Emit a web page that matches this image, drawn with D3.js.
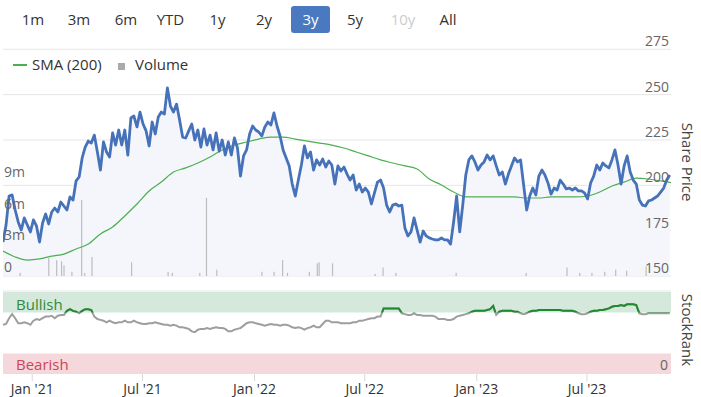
<!DOCTYPE html>
<html lang="en">
<head>
<meta charset="UTF-8">
<title>Share Price</title>
<script src="https://cdn.jsdelivr.net/npm/d3@7"></script>
<style>
  body { margin: 0; background: #fff; }
  svg text { font-family: "Open Sans", "Noto Sans", sans-serif; }
</style>
</head>
<body>
<div id="chart"></div>
<script>
// ---- data ----
var startDate = "2020-11-14";   // first point, one point every 5 days

var prices = [168.7,178.1,194.1,194.7,186.4,179.8,175.4,182.0,178.1,174.3,180.9,177.6,168.7,179.2,184.2,178.7,185.3,187.5,185.3,190.8,
  188.6,186.4,193.6,191.9,202.4,204.6,215.1,221.1,224.4,223.3,227.7,218.4,208.4,223.9,218.4,215.6,228.9,222.2,230.5,222.2,
  230.5,216.7,237.1,238.2,232.2,240.4,233.8,230.0,221.7,234.9,228.3,237.7,240.4,239.3,253.7,243.7,240.4,244.8,236.0,226.6,
  226.1,230.0,233.8,225.0,230.5,221.1,231.1,222.2,227.7,219.5,228.9,218.9,225.0,216.7,223.9,216.7,226.1,220.6,205.1,216.2,
  219.5,228.3,232.7,230.5,229.4,227.2,232.2,234.9,233.3,239.9,232.7,227.2,219.5,215.1,210.7,200.7,194.1,202.9,211.2,221.7,
  215.1,218.4,208.4,214.0,211.2,214.5,210.1,213.4,211.2,200.7,210.7,207.9,210.1,206.2,202.9,205.7,197.4,200.7,196.3,198.5,
  196.3,189.7,195.8,201.8,202.9,198.5,189.1,185.3,189.1,189.7,188.6,189.1,176.5,172.1,174.3,182.0,175.4,168.7,174.8,172.1,
  171.0,170.4,169.9,169.9,171.0,169.9,169.9,167.6,179.8,194.1,174.3,189.1,205.7,214.0,216.2,212.9,208.4,211.2,212.9,216.7,
  214.0,216.2,210.7,205.7,207.3,200.7,206.2,210.7,215.1,212.9,214.0,200.2,186.4,194.1,198.5,194.7,205.1,208.4,205.7,201.3,
  195.2,198.5,197.4,202.9,200.7,198.0,198.5,197.4,198.5,196.9,196.9,195.8,192.5,201.3,205.1,211.2,208.4,212.3,210.7,209.6,
  214.0,219.5,211.2,200.7,210.7,216.2,207.3,202.9,200.7,191.9,189.1,188.6,191.4,191.9,193.0,194.1,196.3,198.5,202.9,205.7];

var stockRank = [60,61,68,73,68,62,62,63,62,60,65,67,66,68,70,70,71,68,71,72,
  72,77,79,77,76,74,77,79,79,78,70,67,66,65,63,65,63,62,63,63,
  65,63,63,65,63,62,61,61,62,62,63,62,61,60,60,59,60,59,57,57,
  56,55,52,51,54,55,55,56,55,56,57,56,56,55,52,52,54,55,56,59,
  62,63,63,62,61,60,59,60,61,60,60,59,60,60,59,57,56,57,56,54,
  56,57,59,57,57,61,65,65,63,63,63,62,62,62,62,63,63,65,65,66,
  67,68,68,70,70,80,80,80,80,80,80,74,73,72,72,74,72,72,71,71,
  71,71,70,67,67,67,66,66,67,70,71,72,73,74,76,77,77,77,77,78,
  79,83,72,76,77,77,77,77,76,76,74,73,74,76,77,77,78,78,78,78,
  78,78,78,78,77,77,77,77,76,74,73,73,74,76,77,77,78,78,79,80,
  82,83,83,84,83,85,85,85,84,74,73,73,74,74,74,74,74,74,74,74];

// SMA (200), one reading every 20 days from startDate
var sma = [163.8,160.5,158.8,159.4,161.0,162.1,164.9,167.6,173.2,177.0,183.1,189.7,196.9,201.8,207.3,209.6,212.3,215.6,219.5,222.2,
  223.9,225.5,226.6,226.6,225.5,224.4,223.3,222.2,220.6,218.4,216.2,214.0,212.3,210.7,209.0,203.5,200.2,196.3,193.6,193.6,
  193.6,193.6,193.6,193.0,193.0,193.6,193.6,193.6,194.1,196.3,199.6,201.8,204.0,203.5,202.4,201.3];

var volDates = ["2020-12-12","2021-01-28","2021-02-10","2021-02-18","2021-02-22","2021-03-07","2021-03-23","2021-03-28",
  "2021-04-09","2021-06-13","2021-08-12","2021-08-19","2021-10-03","2021-10-14","2021-10-31","2022-01-13","2022-02-02",
  "2022-02-16","2022-02-24","2022-04-01","2022-04-14","2022-04-17","2022-05-09","2022-07-18","2022-07-31","2022-08-21",
  "2022-11-28","2023-03-23","2023-05-29","2023-06-19","2023-07-09","2023-07-30","2023-08-17","2023-09-04","2023-10-06"];
var volValues = [0.3,1.7,1.5,1.4,1.0,0.4,7.2,0.3,1.8,1.3,0.4,0.3,0.3,7.4,0.6,0.4,0.4,
  1.5,0.3,0.4,1.2,1.3,1.2,0.2,0.8,0.3,0.3,0.3,0.8,0.3,0.3,0.4,0.6,0.5,0.9];

var priceTicks = [150, 175, 200, 225, 250, 275];
var volTicks = [0, 3, 6, 9];
var rangeButtons = ["1m", "3m", "6m", "YTD", "1y", "2y", "3y", "5y", "10y", "All"];

// ---- setup ----
var W = 701, H = 397;
var parse = d3.timeParse("%Y-%m-%d");
var t0 = parse(startDate);
var priceData = prices.map(function (p, i) { return {date: d3.timeDay.offset(t0, i * 5), v: p}; });
var rankData = stockRank.map(function (r, i) { return {date: d3.timeDay.offset(t0, i * 5), v: r}; });
var smaData = sma.map(function (s, i) { return {date: d3.timeDay.offset(t0, i * 20), v: s}; });
var volData = volDates.map(function (d, i) { return {date: parse(d), v: volValues[i]}; });

var svg = d3.select("#chart").append("svg").attr("width", W).attr("height", H);

var x = d3.scaleTime().domain([parse("2020-11-14"), parse("2023-11-16")]).range([3, 671]);
var yP = d3.scaleLinear().domain([150, 275]).range([276, 49.3]);
var yV = d3.scaleLinear().domain([0, 9]).range([276, 181]);
var yR = d3.scaleLinear().domain([0, 100]).range([374, 292]);

svg.append("clipPath").attr("id", "plotClip")
  .append("rect").attr("x", 3).attr("y", 40).attr("width", 668).attr("height", 240);

// range selector
var btnX = [33, 79, 126, 170.5, 217.5, 264, 310.5, 355, 403, 448];
rangeButtons.forEach(function (b, i) {
  if (b === "3y") {
    svg.append("rect").attr("x", btnX[i] - 19.5).attr("y", 6).attr("width", 39).attr("height", 27)
      .attr("rx", 3).attr("fill", "#4a79bf");
  }
  svg.append("text").attr("x", btnX[i]).attr("y", 25).attr("text-anchor", "middle")
    .attr("font-size", 15)
    .attr("fill", b === "3y" ? "#fff" : (b === "10y" ? "#ccc" : "#333"))
    .text(b);
});

// price gridlines
priceTicks.forEach(function (t) {
  svg.append("line").attr("x1", 3).attr("x2", 671).attr("y1", yP(t)).attr("y2", yP(t))
    .attr("stroke", "#e6e6e6").attr("stroke-width", 1);
});

// area under price line
var plot = svg.append("g").attr("clip-path", "url(#plotClip)");
plot.append("path").datum(priceData)
  .attr("fill", "#f4f6fb")
  .attr("d", d3.area().x(function (d) { return x(d.date); }).y0(275.5).y1(function (d) { return yP(d.v); }));

// volume bars
plot.selectAll(".vol").data(volData).enter().append("rect")
  .attr("x", function (d) { return x(d.date) - 0.5; })
  .attr("y", function (d) { return yV(d.v); })
  .attr("width", 1.2)
  .attr("height", function (d) { return 276 - yV(d.v); })
  .attr("fill", "#bdbdbd");

// price axis labels
priceTicks.forEach(function (t) {
  svg.append("text").attr("x", 669).attr("y", yP(t) - 3).attr("text-anchor", "end")
    .attr("font-size", 14).attr("fill", "#666").text(t);
});

// volume labels
volTicks.forEach(function (t) {
  svg.append("text").attr("x", 4).attr("y", yV(t) - 4)
    .attr("font-size", 14).attr("fill", "#666").text(t === 0 ? "0" : t + "m");
});

// SMA
plot.append("path").datum(smaData)
  .attr("fill", "none").attr("stroke", "#4caf50").attr("stroke-width", 1.2)
  .attr("d", d3.line().curve(d3.curveMonotoneX).x(function (d) { return x(d.date); }).y(function (d) { return yP(d.v); }));

// price line
plot.append("path").datum(priceData)
  .attr("fill", "none").attr("stroke", "#4672b9").attr("stroke-width", 2.8).attr("stroke-linejoin", "round")
  .attr("d", d3.line().x(function (d) { return x(d.date); }).y(function (d) { return yP(d.v); }));

// legend
svg.append("line").attr("x1", 13).attr("x2", 27).attr("y1", 65).attr("y2", 65)
  .attr("stroke", "#4caf50").attr("stroke-width", 2);
svg.append("text").attr("x", 32).attr("y", 70).attr("font-size", 15).attr("fill", "#333").text("SMA (200)");
svg.append("rect").attr("x", 118).attr("y", 63).attr("width", 7).attr("height", 7).attr("fill", "#aaa");
svg.append("text").attr("x", 135).attr("y", 70).attr("font-size", 15).attr("fill", "#333").text("Volume");

svg.append("text").attr("transform", "translate(682,162) rotate(90)").attr("text-anchor", "middle")
  .attr("font-size", 15).attr("fill", "#444").text("Share Price");

// ---- StockRank pane ----
svg.append("line").attr("x1", 3).attr("x2", 671).attr("y1", 291).attr("y2", 291)
  .attr("stroke", "#e6e6e6");
svg.append("rect").attr("x", 3).attr("width", 668).attr("y", yR(100)).attr("height", yR(75) - yR(100))
  .attr("fill", "#d4e8db");
svg.append("rect").attr("x", 3).attr("width", 668).attr("y", yR(25)).attr("height", yR(0) - yR(25))
  .attr("fill", "#f5d8db");
svg.append("text").attr("x", 16).attr("y", 310).attr("font-size", 15).attr("fill", "#2e8b3e").text("Bullish");
svg.append("text").attr("x", 16).attr("y", 370).attr("font-size", 15).attr("fill", "#d04458").text("Bearish");
svg.append("text").attr("x", 668).attr("y", 370).attr("text-anchor", "end").attr("font-size", 14).attr("fill", "#666").text("0");

var rankLine = d3.line().x(function (d) { return x(d.date); }).y(function (d) { return yR(d.v); });
svg.append("clipPath").attr("id", "bullClip")
  .append("rect").attr("x", 3).attr("y", 280).attr("width", 668).attr("height", yR(75) - 280);
svg.append("path").datum(rankData)
  .attr("fill", "none").attr("stroke", "#9e9e9e").attr("stroke-width", 2).attr("d", rankLine);
svg.append("path").datum(rankData).attr("clip-path", "url(#bullClip)")
  .attr("fill", "none").attr("stroke", "#1f8a2e").attr("stroke-width", 2).attr("d", rankLine);

svg.append("text").attr("transform", "translate(682,330) rotate(90)").attr("text-anchor", "middle")
  .attr("font-size", 15).attr("fill", "#444").text("StockRank");

// x axis
var xTicks = ["2021-01-01", "2021-07-01", "2022-01-01", "2022-07-01", "2023-01-01", "2023-07-01"].map(parse);
var fmt = d3.timeFormat("%b '%y");
xTicks.forEach(function (t) {
  svg.append("line").attr("x1", x(t)).attr("x2", x(t)).attr("y1", 374).attr("y2", 381)
    .attr("stroke", "#d8d8d8");
  svg.append("text").attr("x", x(t)).attr("y", 394).attr("text-anchor", "middle")
    .attr("font-size", 14).attr("fill", "#333").text(fmt(t));
});
</script>
</body>
</html>
